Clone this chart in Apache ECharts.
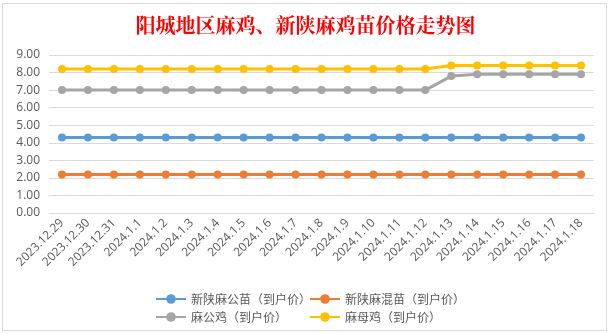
<!DOCTYPE html>
<html>
<head>
<meta charset="utf-8">
<script src="https://cdn.jsdelivr.net/npm/echarts@6/dist/echarts.min.js"></script>
<style>
  html, body { margin: 0; padding: 0; background: #fff; }
  #wrap { position: relative; width: 611px; height: 334px; overflow: hidden; }
  #frame { position: absolute; left: 2px; top: 3px; width: 605px; height: 328px; border: 1px solid #d9d9d9; box-sizing: border-box; }
  #chart { position: absolute; left: 0; top: 0; width: 611px; height: 334px; }
</style>
</head>
<body>
<div id="wrap">
  <div id="frame"></div>
  <div id="chart"></div>
</div>
<script>
// Dates of the price survey
const categories = [
  '2023.12.29', '2023.12.30', '2023.12.31',
  '2024.1.1', '2024.1.2', '2024.1.3', '2024.1.4', '2024.1.5', '2024.1.6',
  '2024.1.7', '2024.1.8', '2024.1.9', '2024.1.10', '2024.1.11', '2024.1.12',
  '2024.1.13', '2024.1.14', '2024.1.15', '2024.1.16', '2024.1.17', '2024.1.18'
];

// Prices (到户价)
const maleChickSeedling = [4.3, 4.3, 4.3, 4.3, 4.3, 4.3, 4.3, 4.3, 4.3, 4.3, 4.3, 4.3, 4.3, 4.3, 4.3, 4.3, 4.3, 4.3, 4.3, 4.3, 4.3];
const mixedChickSeedling = [2.2, 2.2, 2.2, 2.2, 2.2, 2.2, 2.2, 2.2, 2.2, 2.2, 2.2, 2.2, 2.2, 2.2, 2.2, 2.2, 2.2, 2.2, 2.2, 2.2, 2.2];
const roosterPrice = [7.0, 7.0, 7.0, 7.0, 7.0, 7.0, 7.0, 7.0, 7.0, 7.0, 7.0, 7.0, 7.0, 7.0, 7.0, 7.8, 7.9, 7.9, 7.9, 7.9, 7.9];
const henPrice = [8.2, 8.2, 8.2, 8.2, 8.2, 8.2, 8.2, 8.2, 8.2, 8.2, 8.2, 8.2, 8.2, 8.2, 8.2, 8.4, 8.4, 8.4, 8.4, 8.4, 8.4];

const seriesNames = ['新陕麻公苗（到户价）', '新陕麻混苗（到户价）', '麻公鸡（到户价）', '麻母鸡（到户价）'];
const seriesData = [maleChickSeedling, mixedChickSeedling, roosterPrice, henPrice];
const seriesColors = ['#5B9BD5', '#ED7D31', '#A5A5A5', '#FFC000'];

const yTicks = { min: 0, max: 9, interval: 1 };

const chart = echarts.init(document.getElementById('chart'), null, { renderer: 'canvas' });

const legendText = { fontSize: 12, color: '#595959', fontFamily: '"Microsoft YaHei", "Noto Sans CJK SC", sans-serif' };

chart.setOption({
  animation: false,
  title: {
    text: '阳城地区麻鸡、新陕麻鸡苗价格走势图',
    left: 'center',
    top: 10,
    textStyle: {
      color: '#FF0000',
      fontSize: 20,
      fontWeight: 'bold',
      fontFamily: '"Noto Serif CJK SC", "Noto Sans CJK SC", serif'
    }
  },
  legend: [
    {
      data: [seriesNames[0], seriesNames[2]],
      orient: 'vertical',
      left: 150,
      top: 288,
      itemWidth: 30,
      itemHeight: 12,
      itemGap: 6,
      textStyle: legendText
    },
    {
      data: [seriesNames[1], seriesNames[3]],
      orient: 'vertical',
      left: 304,
      top: 288,
      itemWidth: 30,
      itemHeight: 12,
      itemGap: 6,
      textStyle: legendText
    }
  ],
  grid: { left: 49, right: 17, top: 55, bottom: 121, containLabel: false },
  xAxis: {
    type: 'category',
    data: categories,
    boundaryGap: true,
    axisLine: { show: true, lineStyle: { color: '#d9d9d9' } },
    axisTick: { show: false },
    axisLabel: {
      rotate: 45,
      interval: 0,
      margin: 8,
      fontSize: 12,
      color: '#595959',
      fontFamily: '"Segoe UI", "Open Sans", sans-serif'
    }
  },
  yAxis: {
    type: 'value',
    min: yTicks.min,
    max: yTicks.max,
    interval: yTicks.interval,
    axisLine: { show: false },
    axisTick: { show: false },
    splitLine: { lineStyle: { color: '#d9d9d9', width: 1 } },
    axisLabel: {
      margin: 9,
      fontSize: 12,
      color: '#595959',
      fontFamily: '"Segoe UI", "Open Sans", sans-serif',
      formatter: v => v.toFixed(2)
    }
  },
  series: seriesData.map((d, i) => ({
    name: seriesNames[i],
    type: 'line',
    data: d,
    symbol: 'circle',
    symbolSize: 8,
    lineStyle: { width: 3, color: seriesColors[i] },
    itemStyle: { color: seriesColors[i] }
  }))
});
</script>
</body>
</html>
